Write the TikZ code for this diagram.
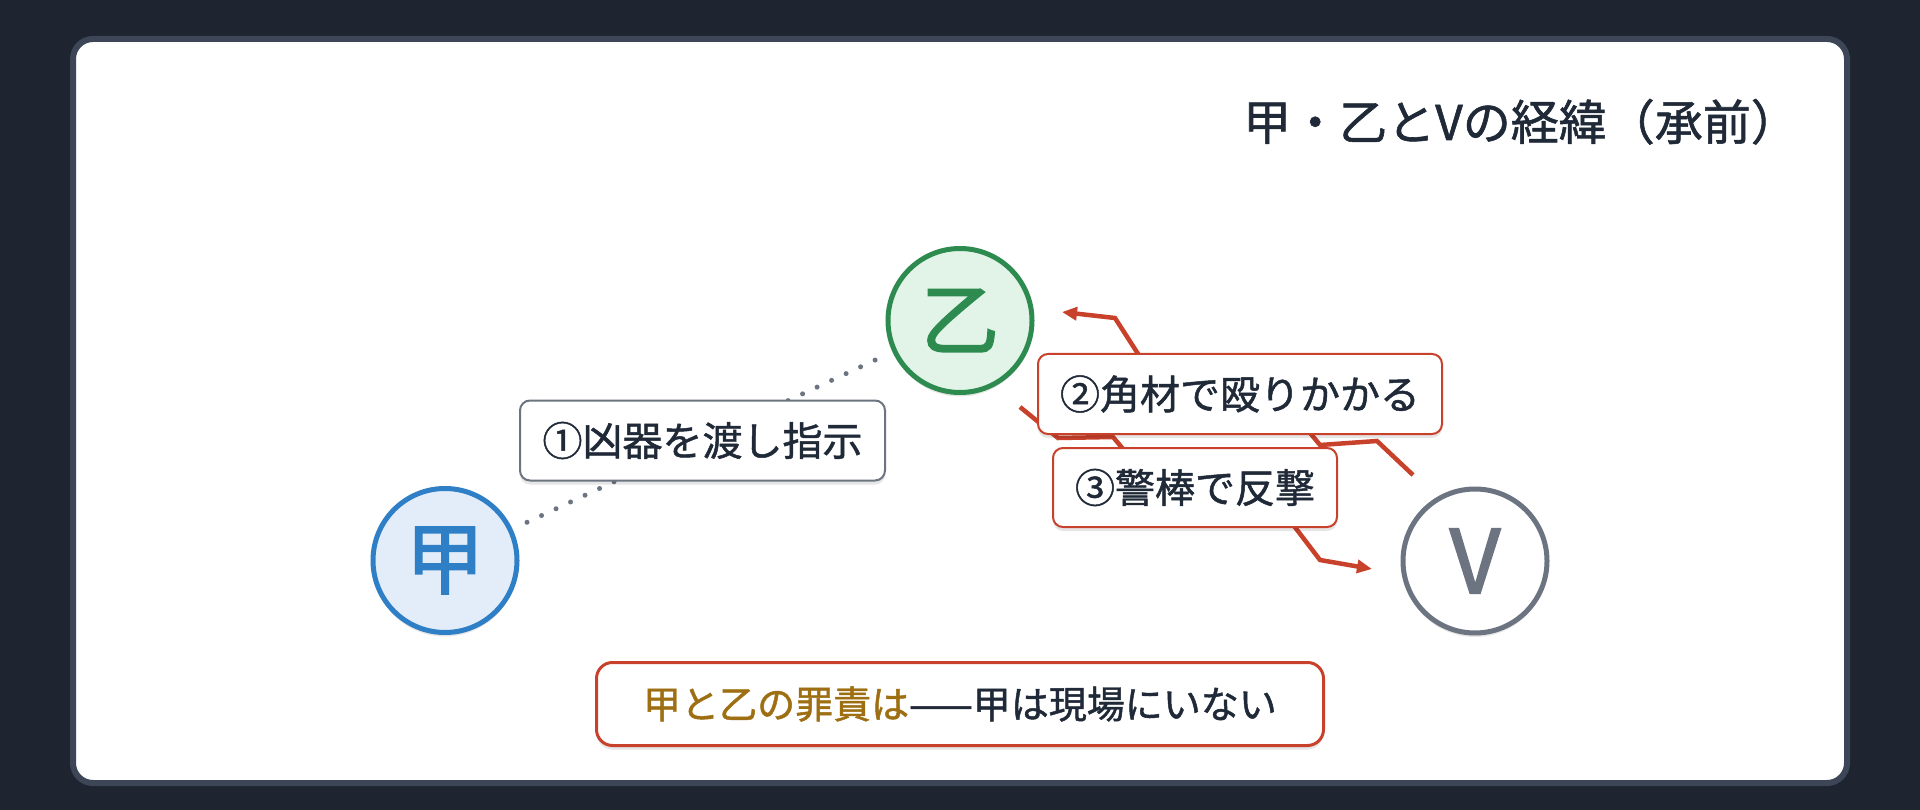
\documentclass[tikz,border=0pt]{standalone}
\usepackage{fontspec}
\setmainfont{Noto Sans CJK JP}[FakeBold=1.2]
\newfontfamily\circfont{Noto Sans CJK JP}[FakeBold=2.2]
\usetikzlibrary{arrows.meta,shadows}
\definecolor{bgdark}{HTML}{1E2430}
\definecolor{cardedge}{HTML}{3C4657}
\definecolor{inkdark}{HTML}{1F2937}
\definecolor{jblue}{HTML}{2F7FC6}
\definecolor{jbluefill}{HTML}{E3EDF9}
\definecolor{ygreen}{HTML}{2E8B50}
\definecolor{ygreenfill}{HTML}{E2F4E7}
\definecolor{vgray}{HTML}{6B7480}
\definecolor{actred}{HTML}{C8412B}
\definecolor{gold}{HTML}{9E6F12}
\begin{document}
\begin{tikzpicture}[x=1pt,y=-1pt,
  softshadow/.style={drop shadow={shadow xshift=0pt,shadow yshift=-4pt,opacity=0.10,fill=black}},
  person/.style={circle,line width=5,minimum size=144,inner sep=0,outer sep=2.5,
    font=\circfont\fontsize{78}{82}\selectfont,softshadow},
  lbl/.style={rectangle,rounded corners=10,line width=2,fill=white,inner sep=0,
    text=inkdark,font=\fontsize{40}{48}\selectfont,softshadow},
  dotline/.style={draw=vgray,line width=5,line cap=round,dash pattern=on 0pt off 16pt,
    shorten >=16pt,shorten <=16pt},
  actline/.style={draw=actred,line width=4.5,line join=miter,
    -{Triangle[length=15pt,width=13pt]}}
]
\useasboundingbox (0,0) rectangle (1920,810);
\fill[bgdark] (0,0) rectangle (1920,810);
\draw[cardedge,fill=white,line width=6,rounded corners=20] (73,39) rectangle (1847,783);

% title
\node[anchor=base west,inner sep=0,text=inkdark,font=\fontsize{48}{56}\selectfont] (title)
  at (1243,140) {甲・乙とVの経緯（承前）};

% persons
\node[person,draw=jblue,fill=jbluefill,text=jblue] (jia) at (445,560.5) {甲};
\node[person,draw=ygreen,fill=ygreenfill,text=ygreen] (yi) at (960,320.5) {乙};
\node[person,draw=vgray,fill=white,text=vgray,font=\circfont\fontsize{88}{92}\selectfont] (vic) at (1475,561) {V};

% route points
\coordinate (a0) at (1020,407);
\coordinate (a1) at (1058,438);
\coordinate (a2) at (1113,437);
\coordinate (a3) at (1149,480);
\coordinate (a4) at (1278,505);
\coordinate (a5) at (1320,560);
\coordinate (a6) at (1372,569);
\coordinate (b0) at (1413,475);
\coordinate (b1) at (1377,441);
\coordinate (b2) at (1320,445);
\coordinate (b3) at (1291,410);
\coordinate (b4) at (1158,385);
\coordinate (b5) at (1115,318);
\coordinate (b6) at (1062,312);

% connectors
\draw[dotline] (jia) -- (yi);
\draw[actline] (a0) -- (a1) -- (a2) -- (a3) -- (a4) -- (a5) -- (a6);
\draw[actline] (b0) -- (b1) -- (b2) -- (b3) -- (b4) -- (b5) -- (b6);

% labels
\node[lbl,draw=vgray,minimum width=365,minimum height=80] (l1) at (702.5,440.5) {①凶器を渡し指示};
\node[lbl,draw=actred,minimum width=404,minimum height=80] (l2) at (1240,394) {②角材で殴りかかる};
\node[lbl,draw=actred,minimum width=284,minimum height=79] (l3) at (1195,487.5) {③警棒で反撃};

% summary
\node[lbl,draw=actred,line width=3,rounded corners=16,minimum width=727,minimum height=83,
  font=\fontsize{38}{46}\selectfont] (summary) at (960,704)
  {\textcolor{gold}{甲と乙の罪責は}——甲は現場にいない};
\end{tikzpicture}
\end{document}
